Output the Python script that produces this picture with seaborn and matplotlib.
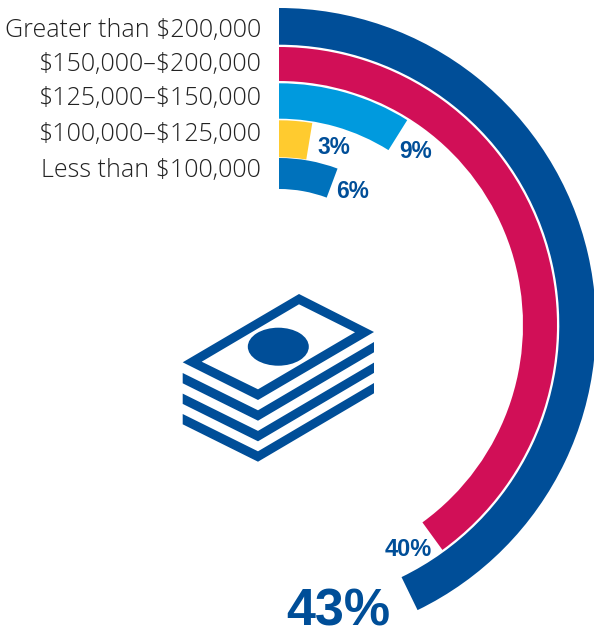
import numpy as np
import pandas as pd
import matplotlib
matplotlib.use("Agg")
import matplotlib.pyplot as plt
from matplotlib.patches import Polygon, Ellipse
import seaborn as sns

categories = ["Greater than $200,000", "$150,000–$200,000", "$125,000–$150,000",
              "$100,000–$125,000", "Less than $100,000"]
# arc lengths as drawn in the picture (share of a full circle) and their printed labels
drawn_share = [42.8, 40.0, 8.9, 2.6, 5.7]
colors = ["#004E98", "#D10F57", "#009ADE", "#FFCB2F", "#0072BC"]
value_labels = ["43%", "40%", "9%", "3%", "6%"]

W, H = 594, 629
CX, CY, RMAX = 279, 325, 320
BANDS = [(280.3, 317), (244, 278), (206.3, 241.7), (167.7, 204.7), (136, 167)]
LABEL_Y = [30, 64, 99, 135, 170]
VALUE_POS = [(338.5, 607), (408.5, 547), (415.5, 149), (334, 145), (353, 189)]
VALUE_SIZE = [37.5, 17, 16.3, 16.3, 16.3]
NAVY = "#004E98"

sns.set_theme(style="white")
plt.rcParams["font.family"] = ["Open Sans", "DejaVu Sans"]

df = pd.DataFrame({"category": categories,
                   "theta": np.array(drawn_share) / 100 * 2 * np.pi})

fig = plt.figure(figsize=(W / 100, H / 100), dpi=100)
ax = fig.add_axes([(CX - RMAX) / W, (H - CY - RMAX) / H, 2 * RMAX / W, 2 * RMAX / H],
                  projection="polar")
sns.barplot(data=df, y="category", x="theta", hue="category", palette=colors,
            order=categories, hue_order=categories, orient="h", dodge=False,
            errorbar=None, legend=False, linewidth=0, saturation=1, ax=ax)
ax.set_theta_zero_location("N")
ax.set_theta_direction(-1)
ax.set_thetamin(0)
ax.set_thetamax(360)

# radial position: 1 y unit = 1 px, measured from the centre
ax.set_ylim(0, RMAX)
for bar, (r0, r1) in zip(ax.patches, BANDS):
    bar.set_y(r0)
    bar.set_height(r1 - r0)
ax.axis("off")

# overlay in pixel coordinates for the labels and the icon
ov = fig.add_axes([0, 0, 1, 1])
ov.set_xlim(0, W)
ov.set_ylim(H, 0)
ov.axis("off")
ov.patch.set_alpha(0)

for cat, y in zip(categories, LABEL_Y):
    ov.text(261, y, cat.replace("$", r"\$"), ha="right", va="center", fontsize=18,
            color="#222222", fontweight="light", family=["Open Sans", "DejaVu Sans"])
for lab, (x, y), s in zip(value_labels, VALUE_POS, VALUE_SIZE):
    ov.text(x, y, lab, ha="center", va="center_baseline", fontsize=s, color=NAVY,
            fontweight="bold", family=["Liberation Sans", "DejaVu Sans"])

# money-stack icon
ov.add_patch(Polygon([(299, 294), (374, 332), (258, 400), (182.7, 362.3)], fc=NAVY, lw=0))
ov.add_patch(Polygon([(299, 304.3), (355, 332.3), (258, 389.3), (201.7, 361.7)], fc="white", lw=0))
ov.add_patch(Ellipse((278.3, 346.7), 61, 38, fc=NAVY, lw=0))
for dy in (0, 20.6, 41):
    ov.add_patch(Polygon([(182.7, 373 + dy), (258, 410.3 + dy), (374, 342 + dy),
                          (374, 352.3 + dy), (258, 420.7 + dy), (182.7, 383.3 + dy)],
                         fc=NAVY, lw=0))

fig.savefig("out.png", dpi=100)
